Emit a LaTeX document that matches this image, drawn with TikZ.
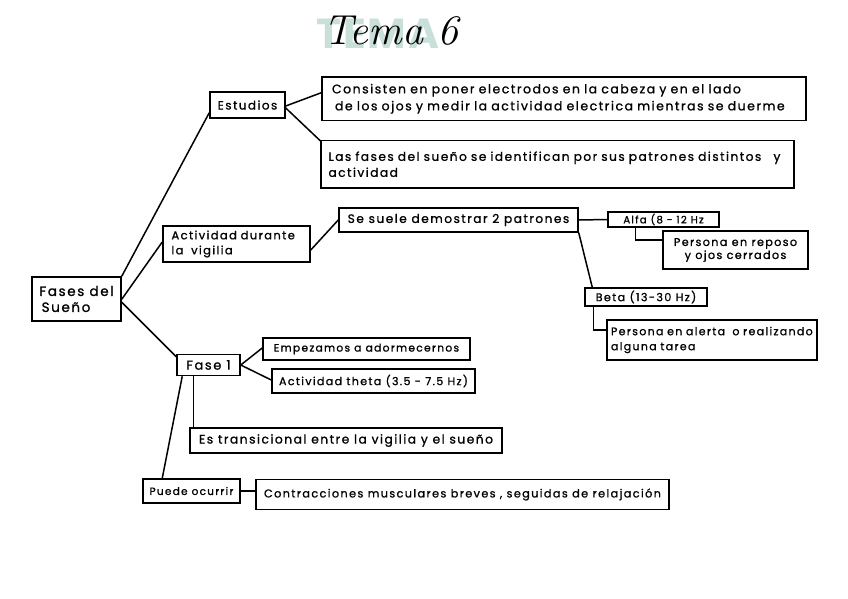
\documentclass[tikz,border=0pt]{standalone}
\usepackage{fontspec}
\newfontfamily\hand[LetterSpace=12,FakeBold=1]{Poppins}
\newfontfamily\teal[LetterSpace=4]{Poppins}
\usetikzlibrary{calc}
\definecolor{tealhl}{HTML}{C4DDD6}
\tikzset{
  box/.style={draw=black, line width=1.5pt, inner sep=0pt, font=\hand},
  conn/.style={draw=black, line width=1.5pt},
}
\begin{document}
\begin{tikzpicture}[x=1pt,y=-1pt]
\useasboundingbox[fill=white] (0,0) rectangle (848,599);
% title
\node[font=\teal\fontsize{42}{42}\selectfont\bfseries, text=tealhl, opacity=0.9] (tealt) at (378,34) {TEMA};
\node[font=\itshape\fontsize{42}{42}\selectfont] (title) at (391,31) {Tema 6};
% boxes
\node[box, minimum width=89, minimum height=44, align=left, font=\hand\fontsize{13.5}{16}\selectfont] (fases) at (76.5,299) {Fases del\\ \,Sueño};
\node[box, minimum width=75, minimum height=26, font=\hand\fontsize{12}{14}\selectfont] (estudios) at (247.5,105) {Estudios};
\node[box, minimum width=484, minimum height=43.5, text width=470, align=left, font=\hand\fontsize{12.5}{17}\selectfont] (consisten) at (564,98.75) {\hspace*{3pt}Consisten en poner electrodos en la cabeza y en el lado\\ \hspace*{6pt}de los ojos y medir la actividad electrica mientras se duerme};
\node[box, minimum width=473, minimum height=47.5, text width=458, align=left, font=\hand\fontsize{12.2}{16}\selectfont] (lasfases) at (557.5,164.25) {Las fases del sueño se identifican por sus patrones distintos \ \ y\\ actividad};
\node[box, minimum width=147, minimum height=36, text width=130, align=left, font=\hand\fontsize{11.5}{15}\selectfont] (actividad) at (236.5,244) {Actividad durante\\ la \ vigilia};
\node[box, minimum width=239, minimum height=24, font=\hand\fontsize{12.2}{13}\selectfont] (sesuele) at (458.5,220) {Se suele demostrar 2 patrones};
\node[box, minimum width=111, minimum height=15, font=\hand\fontsize{10.2}{10}\selectfont] (alfa) at (663.5,219.5) {Alfa (8 - 12 Hz};
\node[box, minimum width=145, minimum height=38, align=center, font=\hand\fontsize{11.2}{13}\selectfont] (reposo) at (735.5,250) {Persona en reposo\\ y ojos cerrados};
\node[box, minimum width=122, minimum height=18, font=\hand\fontsize{11.2}{10}\selectfont] (beta) at (646,297) {Beta (13-30 Hz)};
\node[box, minimum width=210, minimum height=40, text width=202, align=left, font=\hand\fontsize{11}{15}\selectfont] (alerta) at (712,340) {Persona en alerta \ o realizando\\ alguna tarea};
\node[box, minimum width=63, minimum height=21, font=\hand\fontsize{13}{12}\selectfont] (fase1) at (208.5,365) {Fase 1};
\node[box, minimum width=207, minimum height=22, font=\hand\fontsize{10.7}{12}\selectfont] (empezamos) at (366.5,349) {Empezamos a adormecernos};
\node[box, minimum width=203, minimum height=24, font=\hand\fontsize{11.1}{12}\selectfont] (theta) at (373.5,381) {Actividad theta (3.5 - 7.5 Hz)};
\node[box, minimum width=312, minimum height=25, font=\hand\fontsize{12.3}{13}\selectfont] (transicional) at (346,440.5) {Es transicional entre la vigilia y el sueño};
\node[box, minimum width=97, minimum height=24, font=\hand\fontsize{10.5}{12}\selectfont] (puede) at (191.5,491) {Puede ocurrir};
\node[box, minimum width=413, minimum height=30, font=\hand\fontsize{11.3}{13}\selectfont] (contracciones) at (462.5,494.5) {Contracciones musculares breves , seguidas de relajación};
% connectors
\draw[conn] (fases.north east) -- ($(estudios.south west)+(0,-6)$);
\draw[conn] ($(fases.north east)+(0,23)$) -- ($(actividad.west)+(0,-2)$);
\draw[conn] ($(fases.north east)+(0,26)$) -- ($(fase1.north west)+(0,3)$);
\draw[conn] ($(estudios.east)+(0,1)$) -- ($(consisten.west)+(0,-6)$);
\draw[conn] ($(estudios.east)+(0,3)$) -- ($(lasfases.north west)+(0,1)$);
\draw[conn] ($(actividad.east)+(0,6)$) -- (sesuele.west);
\draw[conn] (sesuele.east) -- (alfa.west);
\draw[conn] (sesuele.south east) -- ($(beta.north west)+(8,0)$);
\draw[conn] ($(alfa.south west)+(28,0)$) |- ($(reposo.west)+(0,-10)$);
\draw[conn] ($(beta.south west)+(9,0)$) |- ($(alerta.west)+(0,-10)$);
\draw[conn] (fase1.east) -- ($(empezamos.west)+(0,-1)$);
\draw[conn] (fase1.east) -- ($(theta.west)+(0,-1)$);
\coordinate (f1a) at ($(fase1.south west)+(17,0)$);
\draw[conn] (f1a) -- (f1a |- transicional.north);
\draw[conn] ($(fase1.south west)+(6,0)$) -- ($(puede.north west)+(20,0)$);
\draw[conn] (puede.east) -- (puede.east -| contracciones.west);
\end{tikzpicture}
\end{document}
